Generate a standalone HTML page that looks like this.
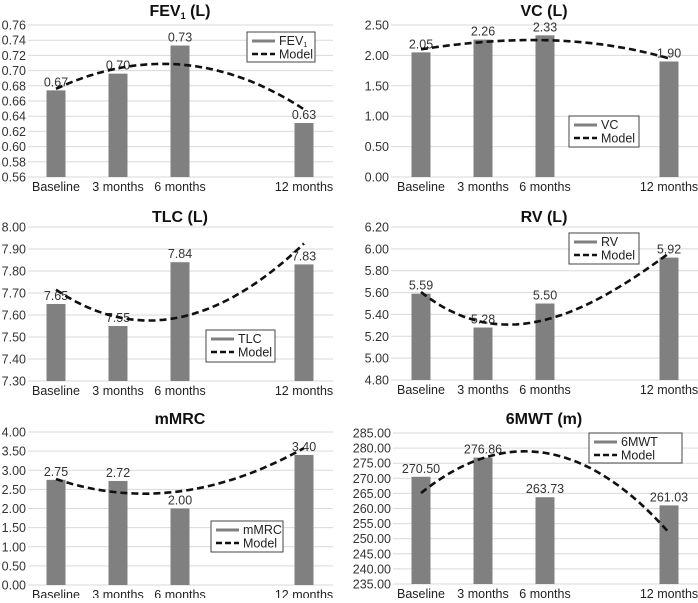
<!DOCTYPE html>
<html><head><meta charset="utf-8"><style>
body{margin:0;background:#fff;width:698px;height:598px;overflow:hidden;font-family:"Liberation Sans",sans-serif}
svg text{font-family:"Liberation Sans",sans-serif}
</style></head><body>
<svg id="c" width="698" height="598"></svg>
<script>
const categories=["Baseline","3 months","6 months","12 months"];
const months=[0,3,6,12];
const fevValues=[0.674,0.696,0.733,0.631];
const fevLabels=["0.67","0.70","0.73","0.63"];
const fevModel=[0.676,0.703,0.708,0.649];
const vcValues=[2.05,2.26,2.33,1.90];
const vcLabels=["2.05","2.26","2.33","1.90"];
const vcModel=[2.10,2.22,2.25,1.95];
const tlcValues=[7.65,7.55,7.84,7.83];
const tlcLabels=["7.65","7.55","7.84","7.83"];
const tlcModel=[7.715,7.59,7.59,7.925];
const rvValues=[5.59,5.28,5.50,5.92];
const rvLabels=["5.59","5.28","5.50","5.92"];
const rvModel=[5.605,5.33,5.35,5.96];
const mmrcValues=[2.75,2.72,2.00,3.40];
const mmrcLabels=["2.75","2.72","2.00","3.40"];
const mmrcModel=[2.77,2.42,2.45,3.58];
const mwtValues=[270.50,276.86,263.73,261.03];
const mwtLabels=["270.50","276.86","263.73","261.03"];
const mwtModel=[265.1,276.7,278.4,252.0];

const panels=[
 {name:"fev",title:"FEV",sub:"1",unit:" (L)",vals:fevValues,labels:fevLabels,model:fevModel,min:0.56,max:0.76,step:0.02,x0:28,x1:333,xb:56,top:25,bot:177,ty:16,tx:180,leg:[247,32,68,30],ser:"FEV",legSub:"1"},
 {name:"vc",title:"VC",sub:"",unit:" (L)",vals:vcValues,labels:vcLabels,model:vcModel,min:0,max:2.5,step:0.5,x0:391,x1:698,xb:421,top:25,bot:177,ty:16,tx:544,leg:[569,116,70,31],ser:"VC"},
 {name:"tlc",title:"TLC",sub:"",unit:" (L)",vals:tlcValues,labels:tlcLabels,model:tlcModel,min:7.3,max:8.0,step:0.1,x0:28,x1:333,xb:56,top:227,bot:381,ty:222,tx:180,leg:[206,330,69,32],ser:"TLC"},
 {name:"rv",title:"RV",sub:"",unit:" (L)",vals:rvValues,labels:rvLabels,model:rvModel,min:4.8,max:6.2,step:0.2,x0:391,x1:698,xb:421,top:227,bot:380,ty:222,tx:544,leg:[569,233,70,31],ser:"RV"},
 {name:"mmrc",title:"mMRC",sub:"",unit:"",vals:mmrcValues,labels:mmrcLabels,model:mmrcModel,min:0,max:4,step:0.5,x0:28,x1:333,xb:56,top:432,bot:585,ty:424,tx:180,leg:[211,521,72,31],ser:"mMRC"},
 {name:"6mwt",title:"6MWT",sub:"",unit:" (m)",vals:mwtValues,labels:mwtLabels,model:mwtModel,min:235,max:285,step:5,x0:393,x1:698,xb:421,top:433,bot:584,ty:424,tx:544,leg:[589,433,93,30],ser:"6MWT"}
];
const NS="http://www.w3.org/2000/svg";
const svg=document.getElementById("c");
function mk(tag,attrs,parent,txt){const e=document.createElementNS(NS,tag);for(const k in attrs)e.setAttribute(k,attrs[k]);if(txt!==undefined)e.textContent=txt;parent.appendChild(e);return e;}
panels.forEach(p=>{
 const g=mk("g",{},svg);
 
 
 const y=v=>p.bot-(v-p.min)/(p.max-p.min)*(p.bot-p.top);
 const x=m=>p.xb+m/3*62;
 const nT=Math.round((p.max-p.min)/p.step);
 for(let i=0;i<=nT;i++){
  const v=p.min+i*p.step,yy=y(v);
  const l=mk("line",{x1:p.x0,x2:p.x1,y1:yy,y2:yy,stroke:"#d9d9d9","stroke-width":1},g);
  
  
  const t=mk("text",{x:p.x0-2,y:yy+4.5,"text-anchor":"end","font-size":"12.5",fill:"#333"},g,v.toFixed(2));
  
  
 }
 const tt=mk("text",{x:p.tx,y:p.ty,"text-anchor":"middle","font-size":"16","font-weight":"bold",fill:"#111"},g);
 
 
 tt.appendChild(document.createTextNode(p.title));
 if(p.sub){const s=mk("tspan",{"font-size":"9",dy:"3"},tt,p.sub);mk("tspan",{dy:"-3"},tt,p.unit);}else tt.appendChild(document.createTextNode(p.unit));
 p.vals.forEach((v,i)=>{
  const cx=x(months[i]);
  const b=mk("rect",{x:cx-9.5,y:y(v),width:19,height:p.bot-y(v),fill:"#808080"},g);
  
  
  const t=mk("text",{x:cx,y:y(v)-4,"text-anchor":"middle","font-size":"12.5",fill:"#333"},g,p.labels[i]);
  
  
  const c=mk("text",{x:cx,y:p.bot+14,"text-anchor":"middle","font-size":"12.5",fill:"#222"},g,categories[i]);
  
  
 });
 const f=m=>{let s=0;for(let i=0;i<4;i++){let L=1;for(let j=0;j<4;j++)if(j!==i)L*=(m-months[j])/(months[i]-months[j]);s+=L*p.model[i];}return s;};
 let d="";for(let k=0;k<=60;k++){const m=k*12/60;d+=(k?"L":"M")+x(m).toFixed(1)+","+y(f(m)).toFixed(1);}
 const path=mk("path",{d:d,fill:"none",stroke:"#111","stroke-width":2.6,"stroke-dasharray":"7,4"},g);
 
 
 const [lx,ly,lw,lh]=p.leg;
 const lg=mk("g",{},g);
 
 
 mk("rect",{x:lx,y:ly,width:lw,height:lh,fill:"#fff",stroke:"#444","stroke-width":1},lg);
 mk("line",{x1:lx+5,x2:lx+28,y1:ly+9,y2:ly+9,stroke:"#808080","stroke-width":3},lg);
 const st=mk("text",{x:lx+32,y:ly+13,"font-size":"12.5",fill:"#222"},lg,p.ser);
 if(p.legSub)mk("tspan",{"font-size":"7",dy:"2"},st,p.legSub);
 mk("line",{x1:lx+5,x2:lx+28,y1:ly+22,y2:ly+22,stroke:"#111","stroke-width":2.6,"stroke-dasharray":"6,3"},lg);
 mk("text",{x:lx+32,y:ly+26.5,"font-size":"12.5",fill:"#222"},lg,"Model");
});
</script>
</body></html>
